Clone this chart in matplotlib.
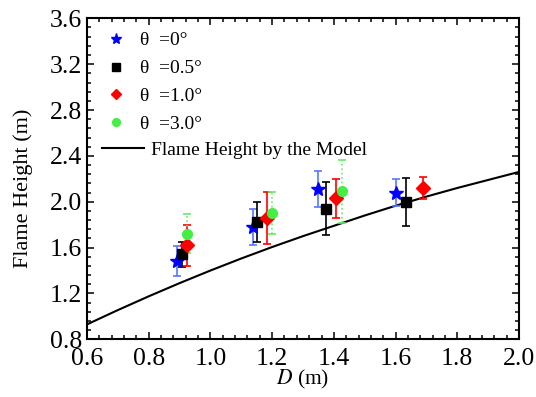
import matplotlib
matplotlib.use("Agg")
import matplotlib.pyplot as plt
from matplotlib.lines import Line2D
from matplotlib.ticker import MultipleLocator, AutoMinorLocator

plt.rcParams['font.family'] = ['Liberation Serif', 'DejaVu Serif']
plt.rcParams['mathtext.fontset'] = 'stix'

# ---- data ----
labels = ["θ  =0°", "θ  =0.5°", "θ  =1.0°", "θ  =3.0°"]
d_0 = [0.891, 1.139, 1.350, 1.600]
h_0 = [1.48, 1.78, 2.11, 2.08]
e_0 = [0.13, 0.16, 0.16, 0.12]

d_05 = [0.909, 1.150, 1.373, 1.634]
h_05 = [1.54, 1.82, 1.94, 2.00]
e_05 = [0.11, 0.175, 0.23, 0.21]

d_10 = [0.923, 1.182, 1.407, 1.688]
h_10 = [1.62, 1.86, 2.03, 2.12]
e_10 = [0.18, 0.225, 0.17, 0.095]

d_30 = [0.925, 1.198, 1.427]
h_30 = [1.72, 1.90, 2.09]
e_30 = [0.17, 0.185, 0.275]

model_d = [0.6, 0.7, 0.8, 0.9, 1.0, 1.1, 1.2, 1.3, 1.4, 1.5, 1.6, 1.7, 1.8, 1.9, 2.0]
model_h = [0.93, 1.055, 1.175, 1.29, 1.40, 1.505, 1.605, 1.70, 1.79, 1.88, 1.965, 2.045, 2.12, 2.19, 2.26]
model_label = "Flame Height by the Model"

fig = plt.figure(figsize=(5.36, 3.97), dpi=100)
ax = fig.add_axes([0.1623, 0.1453, 0.8060, 0.8086])

ax.plot(model_d, model_h, color='black', lw=1.5, zorder=2)

series = [
    (d_0, h_0, e_0, '*', '#0000ff', '#5577ff', '-', 10),
    (d_05, h_05, e_05, 's', '#000000', '#000000', '-', 7),
    (d_10, h_10, e_10, 'D', '#ff0000', '#ff0000', '-', 7),
    (d_30, h_30, e_30, 'o', '#44ee44', '#66ee66', ':', 7),
]
handles = []
for (d, h, e, m, c, ec, ls, ms), lab in zip(series, labels):
    cont = ax.errorbar(d, h, yerr=e, fmt=m, color=c, ecolor=ec, ms=ms,
                       mec=c, mfc=c, elinewidth=1.2, capsize=3, capthick=1.2,
                       zorder=3)
    for lc in cont[2]:
        lc.set_linestyle(ls)
    handles.append(Line2D([], [], marker=m, color=c, ls='none', ms=ms*0.8))

ax.set_xlim(0.6, 2.0)
ax.set_ylim(0.8, 3.6)
ax.xaxis.set_major_locator(MultipleLocator(0.2))
ax.yaxis.set_major_locator(MultipleLocator(0.4))
ax.xaxis.set_minor_locator(AutoMinorLocator(5))
ax.yaxis.set_minor_locator(AutoMinorLocator(5))
ax.tick_params(which='both', direction='in', top=True, right=True, labelsize=18.5, width=1.1)
ax.tick_params(which='major', length=5)
ax.tick_params(which='minor', length=3)
ax.tick_params(axis='x', pad=6.5)
for s in ax.spines.values():
    s.set_linewidth(1.5)

ax.set_xlabel(r"$D$ (m)", fontsize=15.5, labelpad=-2)
ax.set_ylabel("Flame Height (m)", fontsize=16)
ax.yaxis.set_label_coords(-0.125, 0.471)

leg1 = ax.legend(handles, labels, loc='upper left', bbox_to_anchor=(0.03, 0.97),
                 frameon=False, fontsize=14, handlelength=1.2, handletextpad=0.65,
                 labelspacing=0.53, borderpad=0.2, borderaxespad=0)
ax.add_artist(leg1)
leg2 = ax.legend([Line2D([], [], color='black', lw=1.5)], [model_label],
                 loc='upper left', bbox_to_anchor=(0.025, 0.629),
                 frameon=False, fontsize=14, handlelength=2.2, handletextpad=0.35,
                 borderpad=0.2, borderaxespad=0)

fig.savefig("out.png", dpi=100)
